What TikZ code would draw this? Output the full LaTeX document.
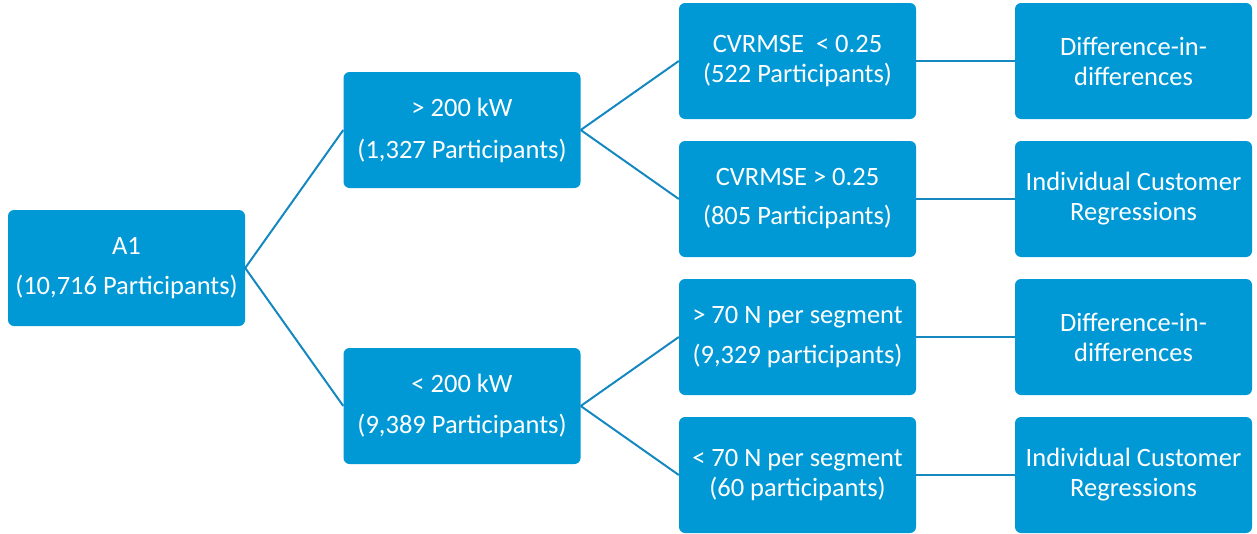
\documentclass[tikz,border=0pt]{standalone}
\usepackage{fontspec}
\setmainfont{Carlito}
\begin{document}
\begin{tikzpicture}[x=1pt,y=-1pt,
  box/.style={fill=boxblue, rounded corners=6pt, minimum width=237pt, minimum height=116pt,
    inner sep=0pt, align=center, text=white, font=\fontsize{26.5}{30}\selectfont},
  link/.style={draw=lineblue, line width=2pt}]
\definecolor{boxblue}{HTML}{0099D6}
\definecolor{lineblue}{HTML}{1588C0}
\useasboundingbox (0,0) rectangle (1257,533);
\node[box] (a1) at (126.5,268) {A1\\[10pt](10,716 Participants)};
\node[box] (hi) at (462,130) {> 200 kW\\[12pt](1,327 Participants)};
\node[box] (lo) at (462,406) {< 200 kW\\[11pt](9,389 Participants)};
\node[box] (c1) at (797.5,61) {CVRMSE~ < 0.25\\(522 Participants)};
\node[box] (c2) at (797.5,199) {CVRMSE > 0.25\\[9pt](805 Participants)};
\node[box] (c3) at (797.5,337) {> 70 N per segment\\[10pt](9,329 participants)};
\node[box] (c4) at (797.5,475) {< 70 N per segment\\(60 participants)};
\node[box] (d1) at (1133.5,61) {Difference-in-\\differences};
\node[box] (d2) at (1133.5,199) {Individual Customer\\Regressions};
\node[box] (d3) at (1133.5,337) {Difference-in-\\differences};
\node[box] (d4) at (1133.5,475) {Individual Customer\\Regressions};
\draw[link] (a1.east) -- (hi.west);
\draw[link] (a1.east) -- (lo.west);
\draw[link] (hi.east) -- (c1.west);
\draw[link] (hi.east) -- (c2.west);
\draw[link] (lo.east) -- (c3.west);
\draw[link] (lo.east) -- (c4.west);
\draw[link] (c1.east) -- (d1.west);
\draw[link] (c2.east) -- (d2.west);
\draw[link] (c3.east) -- (d3.west);
\draw[link] (c4.east) -- (d4.west);
\end{tikzpicture}
\end{document}
